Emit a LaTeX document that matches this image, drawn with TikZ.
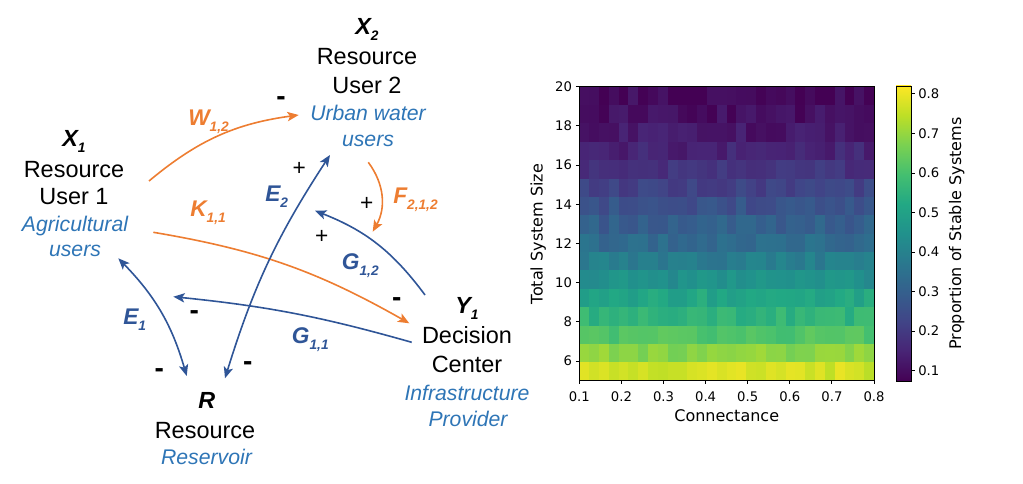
\documentclass[tikz,border=0pt]{standalone}
\usepackage{fontspec}
\setmainfont{Liberation Sans}
\newfontfamily\plotfont{DejaVu Sans}
\usetikzlibrary{arrows.meta}

\definecolor{flowor}{HTML}{ED7D31}
\definecolor{linkblue}{HTML}{2F5597}
\definecolor{roleblue}{HTML}{2E75B6}
% viridis, every 0.1
\definecolor{vir0}{HTML}{440154}
\definecolor{vir1}{HTML}{482475}
\definecolor{vir2}{HTML}{414487}
\definecolor{vir3}{HTML}{355F8D}
\definecolor{vir4}{HTML}{2A788E}
\definecolor{vir5}{HTML}{21918C}
\definecolor{vir6}{HTML}{22A884}
\definecolor{vir7}{HTML}{44BF70}
\definecolor{vir8}{HTML}{7AD151}
\definecolor{vir9}{HTML}{BDDF26}
\definecolor{vir10}{HTML}{FDE725}

\pgfdeclareverticalshading{viridis}{100bp}{color(0bp)=(vir0); color(25bp)=(vir0);
  color(30bp)=(vir1); color(35bp)=(vir2); color(40bp)=(vir3); color(45bp)=(vir4);
  color(50bp)=(vir5); color(55bp)=(vir6); color(60bp)=(vir7); color(65bp)=(vir8);
  color(70bp)=(vir9); color(75bp)=(vir10); color(100bp)=(vir10)}

\newcommand{\lsub}[1]{\raisebox{-4.3pt}{\fontsize{10.3}{11}\selectfont #1}}

\begin{document}
\begin{tikzpicture}[x=0.75pt,y=-0.75pt,
  >={Stealth[length=8.5pt,width=7pt,inset=2pt]},
  title/.style={inner sep=0,anchor=base,font=\fontsize{17.6}{20}\selectfont},
  sym/.style={inner sep=0,anchor=base,font=\fontsize{17.5}{20}\selectfont\bfseries\itshape},
  role/.style={inner sep=0,anchor=base,text=roleblue,font=\fontsize{15.9}{18}\selectfont\itshape},
  elabel/.style={inner sep=0,anchor=base west,font=\fontsize{17}{20}\selectfont\bfseries\itshape},
  sign/.style={inner sep=0,font=\fontsize{17}{20}\selectfont},
  minus/.style={inner sep=0,font=\fontsize{21}{22}\selectfont\bfseries},
  flow/.style={flowor,line width=1.2pt,->},
  link/.style={linkblue,line width=1.2pt},
  axline/.style={line width=0.7pt},
  tick/.style={inner sep=0,font=\plotfont\fontsize{9.9}{11}\selectfont},
  axlabel/.style={inner sep=0,font=\plotfont\fontsize{12}{14}\selectfont}]

\useasboundingbox (0,0) rectangle (1023,484);

% resource user 1
\node[sym] (x1) at (74,146.7) {X\lsub{1}};
\node[title] (x1a) at (74,177.3) {Resource};
\node[title] (x1b) at (74,204.3) {User 1};
\node[role] (x1c) at (75,232) {Agricultural};
\node[role] (x1d) at (75,257) {users};

% resource user 2
\node[sym] (x2) at (367,35) {X\lsub{2}};
\node[title] (x2a) at (367,65) {Resource};
\node[title] (x2b) at (367,94) {User 2};
\node[role] (x2c) at (368,120.7) {Urban water};
\node[role] (x2d) at (368,147) {users};

% decision center
\node[sym] (y1) at (467,313.3) {Y\lsub{1}};
\node[title] (y1a) at (467,343.3) {Decision};
\node[title] (y1b) at (467,372.7) {Center};
\node[role] (y1c) at (467,400) {Infrastructure};
\node[role] (y1d) at (468,426) {Provider};

% resource
\node[sym] (r) at (206.7,408.3) {R};
\node[title] (ra) at (205,438.3) {Resource};
\node[role] (rb) at (206.5,464) {Reservoir};

% free ends
\coordinate (fend) at (372.7,231.7);
\coordinate (g12end) at (315,210.7);
\coordinate (g11end) at (173.3,296.7);

% orange links
\draw[flow] ([shift={(75,-23.3)}]x1b.base) to[bend left=16] ([shift={(-69.3,-5.7)}]x2c.base);
\draw[flow] ([shift={(78.3,0.3)}]x1c.base) to[bend left=10] ([shift={(-57.7,-20)}]y1a.base);
\draw[flow] ([shift={(0.3,15.3)}]x2d.base) to[bend left=33] (fend);

% blue links
\draw[link,<->] ([shift={(18.3,-30)}]r.base) to[bend left=8] ([shift={(-38,8)}]x2d.base);
\draw[link,<->] ([shift={(43.3,1.3)}]x1d.base) to[bend left=14] ([shift={(-20,-32.3)}]r.base);
\draw[link,->] ([shift={(-42,-18.3)}]y1.base) to[bend right=16] (g12end);
\draw[link,->] ([shift={(-55.3,-1)}]y1a.base) to[bend right=5] (g11end);

% link labels
\node[elabel,text=flowor] (lw) at (188,126) {W\lsub{1,2}};
\node[elabel,text=flowor] (lk) at (190,216.7) {K\lsub{1,1}};
\node[elabel,text=flowor] (lf) at (393,204) {F\lsub{2,1,2}};
\node[elabel,text=linkblue] (le2) at (265,201.7) {E\lsub{2}};
\node[elabel,text=linkblue] (lg12) at (341.7,269.3) {G\lsub{1,2}};
\node[elabel,text=linkblue] (le1) at (123,325) {E\lsub{1}};
\node[elabel,text=linkblue] (lg11) at (291.7,343.3) {G\lsub{1,1}};

% signs
\node[minus] (m1) at (281,101) {-};
\node[minus] (m2) at (396.7,302) {-};
\node[minus] (m3) at (194.3,315.5) {-};
\node[minus] (m4) at (159.3,373) {-};
\node[minus] (m5) at (247.7,366.5) {-};
\node[sign] (p1) at (299.3,169.3) {+};
\node[sign] (p2) at (366.7,204) {+};
\node[sign] (p3) at (321.7,236.7) {+};

% heat map
\pgfmathsetseed{11}
\foreach \row/\lev in {0/0.93,1/0.82,2/0.72,3/0.65,4/0.59,5/0.50,6/0.42,7/0.35,8/0.30,9/0.25,10/0.20,11/0.15,12/0.10,13/0.065,14/0.04,15/0.025}{
  \foreach \col in {0,...,29}{
    \pgfmathsetmacro\cval{max(0,min(0.999,\lev+0.04*rand))}
    \pgfmathtruncatemacro\cidx{floor(10*\cval)}
    \pgfmathtruncatemacro\cnext{\cidx+1}
    \pgfmathsetmacro\cpct{100*(10*\cval-\cidx)}
    \fill[vir\cnext!\cpct!vir\cidx] (579.3+9.823*\col,380.7-18.375*\row) rectangle ++(10.1,-18.7);
  }
}
\draw[axline] (579.3,86.7) rectangle (874,380.7);

\foreach \v in {1,...,8}{
  \pgfmathsetmacro\xx{579.3+(\v-1)*42.1}
  \draw[axline] (\xx,380.7) -- (\xx,384.2);
  \node[tick,anchor=base] (xt\v) at (\xx,401.7) {0.\v};
}
\foreach \v in {6,8,...,20}{
  \pgfmathsetmacro\yy{380.7-(\v-5)*19.6}
  \draw[axline] (575.8,\yy) -- (579.3,\yy);
  \node[tick,anchor=east] (yt\v) at (572.3,\yy) {\v};
}
\node[axlabel] (xlab) at (726.7,416) {Connectance};
\node[axlabel,rotate=90] (ylab) at (538.3,234) {Total System Size};

% colour bar
\shade[shading=viridis] (896,381) rectangle (911,86);
\draw[axline] (896,381) rectangle (911,86);
\foreach \v in {1,...,8}{
  \pgfmathsetmacro\yy{381-(\v/10-0.074)/0.746*295}
  \draw[axline] (911,\yy) -- (914.5,\yy);
  \node[tick,anchor=west] (ct\v) at (918,\yy) {0.\v};
}
\node[axlabel,rotate=90] (clab) at (956.7,233.5) {Proportion of Stable Systems};

\end{tikzpicture}
\end{document}
